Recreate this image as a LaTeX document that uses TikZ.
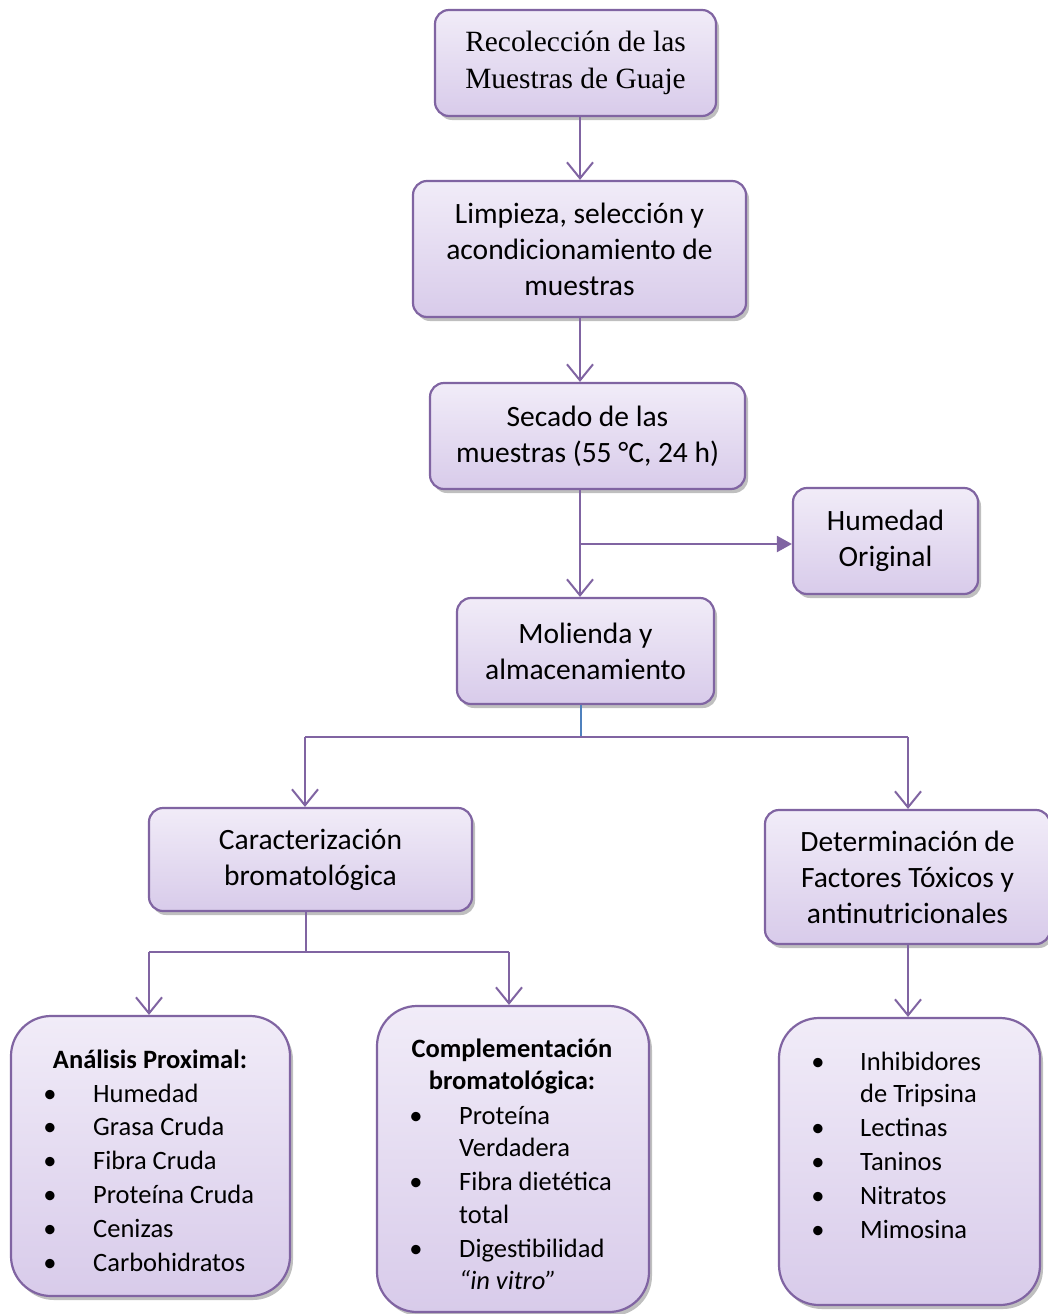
\documentclass[tikz,border=0pt]{standalone}
\usepackage{fontspec}
\setmainfont{Carlito}
\newfontfamily\timesf{Liberation Serif}
\usetikzlibrary{arrows.meta,shadows,calc}
\definecolor{bord}{HTML}{8064A2}
\definecolor{ftop}{HTML}{F1ECF8}
\definecolor{fbot}{HTML}{D8CBEA}
\definecolor{blueln}{HTML}{4F81BD}
\begin{document}
\begin{tikzpicture}[x=1pt,y=-1pt,
  box/.style={draw=bord, line width=2.2pt, rounded corners=14pt,
    top color=ftop, bottom color=fbot,
    drop shadow={shadow xshift=3pt,shadow yshift=-4pt,opacity=0.25,fill=black},
    inner sep=0pt, align=center, font=\fontsize{29.5}{36}\selectfont,
    execute at begin node={\rule{0pt}{27pt}}},
  bigbox/.style={box, rounded corners=40pt},
  wh/.style 2 args={minimum width=#1pt, minimum height=#2pt},
  arr/.style={draw=bord, line width=2.2pt, -{Straight Barb[length=16pt,width=26pt,line width=2pt]}},
  arrF/.style={draw=bord, line width=2.2pt, -{Triangle[length=15pt,width=16pt]}},
  ln/.style={draw=bord, line width=2.2pt},
  txt/.style={inner sep=0pt, anchor=base west, font=\fontsize{26.5}{30}\selectfont},
  hd/.style={inner sep=0pt, anchor=base, font=\fontsize{26.5}{30}\selectfont\bfseries},
  bul/.style={inner sep=0pt, anchor=base, font=\fontsize{26.5}{30}\selectfont},
]
\useasboundingbox (0,0) rectangle (1048,1314);
\fill[white] (0,0) rectangle (1048,1314);

\coordinate (colA) at (580,0);
\coordinate (colB) at (581,0);

\node[box, wh={281}{106}, font=\timesf\fontsize{29.4}{37}\selectfont] (r1) at (575.5,63) {Recolección de las\\Muestras de Guaje};
\node[box, wh={333}{136}] (r2) at (579.5,249) {Limpieza, selección y\\acondicionamiento de\\muestras};
\node[box, wh={315}{106}] (r3) at (587.5,436) {Secado de las\\muestras (55 °C, 24 h)};
\node[box, wh={185}{106}] (hum) at (885.5,541) {Humedad\\Original};
\node[box, wh={257}{106}] (mol) at (585.5,651) {Molienda y\\almacenamiento};
\node[box, wh={323}{103}] (car) at (310.5,859.5) {Caracterización\\bromatológica};
\node[box, wh={285}{134}] (det) at (907.5,877) {Determinación de\\Factores Tóxicos y\\antinutricionales};
\node[bigbox, wh={279}{280}] (ap) at (150.5,1156) {};
\node[bigbox, wh={272}{306}] (cb) at (513,1159) {};
\node[bigbox, wh={261}{287}] (ft) at (909.5,1161.5) {};

% Analisis proximal
\node[hd] (aph) at (150,1068) {Análisis Proximal:};
\foreach \t [count=\i] in {Humedad,Grasa Cruda,Fibra Cruda,Proteína Cruda,Cenizas,Carbohidratos}{
  \pgfmathsetmacro{\yy}{1102+(\i-1)*33.8}
  \node[bul] (apb\i) at (50,\yy) {\textbullet};
  \node[txt] (apt\i) at (93,\yy) {\t};
}
% Complementacion
\node[hd] (cbh1) at (512,1057) {Complementación};
\node[hd] (cbh2) at (512,1089) {bromatológica:};
\node[bul] (cbb1) at (416,1124) {\textbullet};
\node[txt] (cbt1) at (459,1124) {Proteína};
\node[txt] (cbt2) at (459,1156) {Verdadera};
\node[bul] (cbb2) at (416,1190) {\textbullet};
\node[txt] (cbt3) at (459,1190) {Fibra dietética};
\node[txt] (cbt4) at (459,1223) {total};
\node[bul] (cbb3) at (416,1257) {\textbullet};
\node[txt] (cbt5) at (459,1257) {Digestibilidad};
\node[txt] (cbt6) at (459,1289) {\textit{“in vitro”}};
% Factores
\node[bul] (ftb1) at (818,1070) {\textbullet};
\node[txt] (ftt1) at (860,1070) {Inhibidores};
\node[txt] (ftt2) at (860,1102) {de Tripsina};
\foreach \t [count=\i] in {Lectinas,Taninos,Nitratos,Mimosina}{
  \pgfmathsetmacro{\yy}{1136+(\i-1)*34}
  \node[bul] (ftbb\i) at (818,\yy) {\textbullet};
  \node[txt] (fttt\i) at (860,\yy) {\t};
}

% connectors
\draw[arr] (r1.south -| colA) -- (r2.north -| colA);
\draw[arr] (r2.south -| colA) -- (r3.north -| colA);
\draw[arr] (r3.south -| colA) -- (mol.north -| colA);
\coordinate (br) at (580,544);
\draw[arrF] (br) -- (br -| hum.west);
\coordinate (j1) at (581,737);
\draw[blueln, line width=1.3pt] (mol.south -| colB) -- (j1);
\coordinate (j1l) at (305,737);
\coordinate (j1r) at (908,737);
\draw[ln] (j1l) -- (j1r);
\draw[arr] (j1l) -- (j1l |- car.north);
\draw[arr] (j1r) -- (j1r |- det.north);
\coordinate (j2) at (306,952);
\draw[ln] (car.south -| j2) -- (j2);
\coordinate (j2l) at (149,952);
\coordinate (j2r) at (509,952);
\draw[ln] (j2l) -- (j2r);
\draw[arr] (j2l) -- (j2l |- ap.north);
\draw[arr] (j2r) -- (j2r |- cb.north);
\coordinate (j3) at (908,0);
\draw[arr] (det.south -| j3) -- (ft.north -| j3);
\end{tikzpicture}
\end{document}
